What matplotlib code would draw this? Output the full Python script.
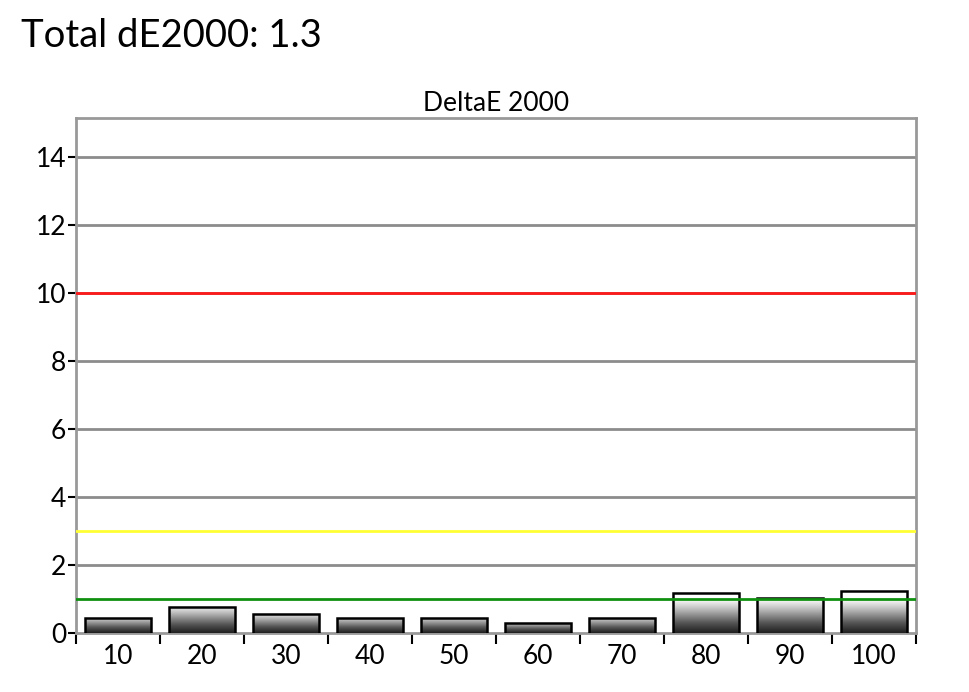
import numpy as np
import matplotlib
matplotlib.use('Agg')
import matplotlib.pyplot as plt
from matplotlib.colors import LinearSegmentedColormap

plt.rcParams['font.family'] = ['Lato', 'DejaVu Sans']

labels = ['10', '20', '30', '40', '50', '60', '70', '80', '90', '100']
delta_e = [0.45, 0.77, 0.55, 0.45, 0.45, 0.30, 0.45, 1.17, 1.02, 1.24]
total_de = 1.3
ref_lines = [(10, '#ff1a1a'), (3, '#ffff33'), (1, '#109010')]

fig = plt.figure(figsize=(9.7, 6.92), dpi=100)
ax = fig.add_axes([0.0784, 0.0853, 0.8659, 0.7442])

x = np.arange(len(labels))
ymax = 15.15
ax.set_xlim(-0.5, len(labels) - 0.5)
ax.set_ylim(0, ymax)

# grid + reference lines
for yv in range(2, 15, 2):
    ax.axhline(yv, color='#8c8c8c', lw=2, zorder=1)
for yv, c in ref_lines:
    ax.axhline(yv, color=c, lw=2, zorder=4)

# gradient bars: dark at the base, lighter towards the top, white above 1
cmap = LinearSegmentedColormap.from_list(
    'shade', [(0, '#1e1e1e'), (0.3, '#555555'), (0.75, '#c8c8c8'), (1.0, '#ffffff')])
bars = ax.bar(x, delta_e, width=0.78, facecolor='none', edgecolor='black',
              lw=1.8, zorder=3)
for b, v in zip(bars, delta_e):
    x0 = b.get_x()
    h = min(v, 1.0)
    top = 0.72 + 0.28 * h
    grad = np.linspace(top, 0, 256).reshape(-1, 1)
    im = ax.imshow(grad, cmap=cmap, vmin=0, vmax=1, aspect='auto',
                   extent=[x0, x0 + b.get_width(), 0, h], zorder=2,
                   interpolation='bicubic')
    im.set_clip_path(b)
    ax.add_patch(plt.Rectangle((x0, h), b.get_width(), max(v - h, 0),
                               facecolor='white', edgecolor='none', zorder=2))

for s in ax.spines.values():
    s.set_color('#999999')
    s.set_linewidth(2)

ax.set_yticks(range(0, 15, 2))
ax.tick_params(axis='y', direction='out', length=6, width=1.5, color='black',
               labelsize=19, pad=1)
ax.set_xticks(x)
ax.set_xticklabels(labels)
ax.set_xticks(np.arange(-0.5, len(labels)), minor=True)
ax.tick_params(axis='x', which='major', length=0, labelsize=19, pad=8)
ax.tick_params(axis='x', which='minor', direction='out', length=8, width=1.5,
               color='black')

ax.set_title('DeltaE 2000', fontsize=19, pad=5)
fig.text(0.022, 0.932, f'Total dE2000: {total_de}', fontsize=27.5, va='baseline')

fig.savefig('out.png', dpi=100)
